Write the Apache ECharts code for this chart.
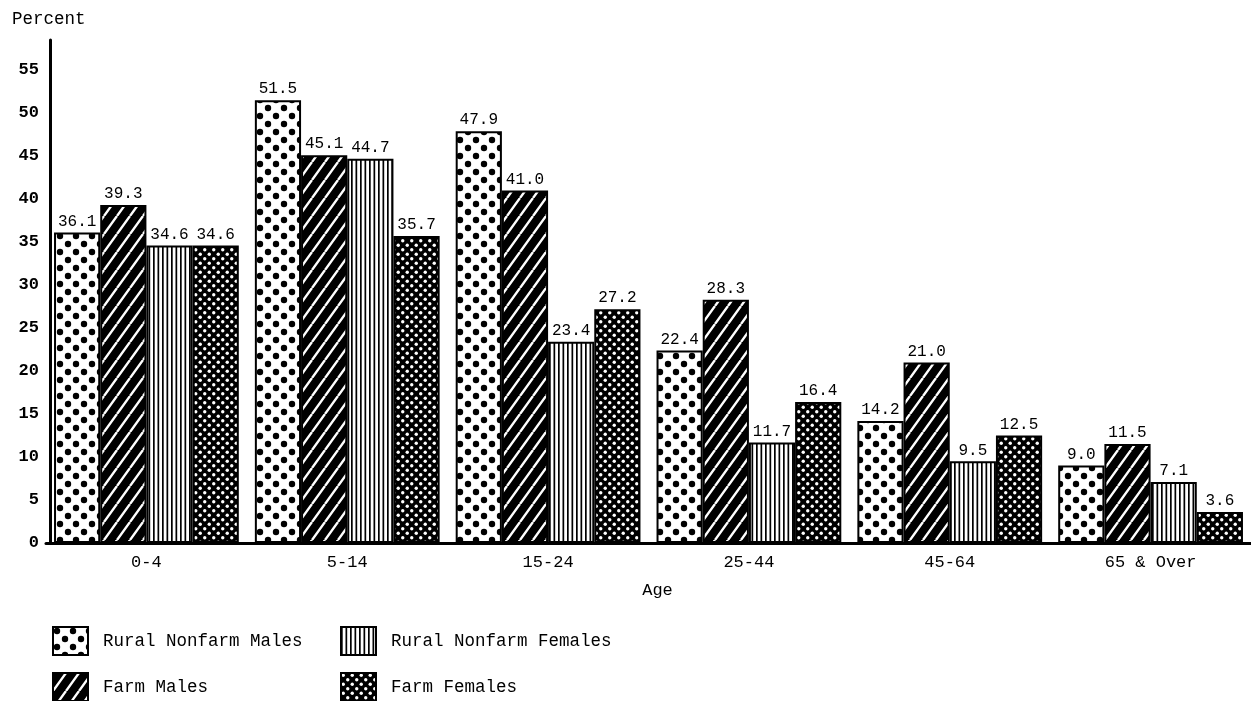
<!DOCTYPE html>
<html>
<head>
<meta charset="utf-8">
<script src="https://cdn.jsdelivr.net/npm/echarts@6/dist/echarts.min.js"></script>
<style>
html,body{margin:0;padding:0;background:#fff;}
#chart{width:1251px;height:701px;}
</style>
</head>
<body>
<div id="chart"></div>
<script>
const categories = ['0-4', '5-14', '15-24', '25-44', '45-64', '65 & Over'];
const seriesNames = ['Rural Nonfarm Males', 'Farm Males', 'Rural Nonfarm Females', 'Farm Females'];
const ruralNonfarmMales = [36.1, 51.5, 47.9, 22.4, 14.2, 9.0];
const farmMales = [39.3, 45.1, 41.0, 28.3, 21.0, 11.5];
const ruralNonfarmFemales = [34.6, 44.7, 23.4, 11.7, 9.5, 7.1];
const farmFemales = [34.6, 35.7, 27.2, 16.4, 12.5, 3.6];
const yTicks = {min: 0, max: 58.5, interval: 5};

const FONT = '"Liberation Mono", "DejaVu Sans Mono", monospace';

function makeTile(w, h, draw) {
  const c = document.createElement('canvas');
  c.width = w; c.height = h;
  const ctx = c.getContext('2d');
  draw(ctx, w, h);
  return {image: c, repeat: 'repeat'};
}
// white with black dots
const dotsPattern = makeTile(16, 16, (ctx, w, h) => {
  ctx.fillStyle = '#fff'; ctx.fillRect(0, 0, w, h);
  ctx.fillStyle = '#000';
  [[4, 4], [12, 12]].forEach(p => { ctx.beginPath(); ctx.arc(p[0], p[1], 3.2, 0, Math.PI * 2); ctx.fill(); });
});
// black with white steep diagonal lines
const hatchPattern = makeTile(13, 18, (ctx, w, h) => {
  ctx.fillStyle = '#000'; ctx.fillRect(0, 0, w, h);
  ctx.strokeStyle = '#fff'; ctx.lineWidth = 2.4;
  ctx.beginPath();
  for (let k = -1; k <= 1; k++) {
    ctx.moveTo(k * w, h); ctx.lineTo(k * w + w, 0);
  }
  ctx.stroke();
});
// white with black vertical lines
const vlinePattern = makeTile(9, 4, (ctx, w, h) => {
  ctx.fillStyle = '#fff'; ctx.fillRect(0, 0, w, h);
  ctx.fillStyle = '#000';
  ctx.fillRect(0, 0, 1.7, h);
  ctx.fillRect(4.5, 0, 1.7, h);
});
// black with small white dots
const darkDotsPattern = makeTile(9, 9, (ctx, w, h) => {
  ctx.fillStyle = '#000'; ctx.fillRect(0, 0, w, h);
  ctx.fillStyle = '#fff';
  [[2.25, 2.25], [6.75, 6.75]].forEach(p => { ctx.beginPath(); ctx.arc(p[0], p[1], 1.7, 0, Math.PI * 2); ctx.fill(); });
});

const patterns = [dotsPattern, hatchPattern, vlinePattern, darkDotsPattern];
const dataSets = [ruralNonfarmMales, farmMales, ruralNonfarmFemales, farmFemales];

// one legend per entry so they can sit in a 2x2 block
const legendSpots = [[52, 626], [52, 672], [340, 626], [340, 672]];
const legends = seriesNames.map((name, i) => ({
  data: [name],
  left: legendSpots[i][0], top: legendSpots[i][1],
  padding: 0,
  itemWidth: 35, itemHeight: 28, icon: 'rect',
  itemStyle: {borderColor: '#000', borderWidth: 2},
  textStyle: {color: '#000', fontFamily: FONT, fontSize: 17.5, padding: [2, 0, 0, 10]},
  selectedMode: false
}));

const chart = echarts.init(document.getElementById('chart'));
chart.setOption({
  animation: false,
  backgroundColor: '#fff',
  title: {
    text: 'Percent', left: 12, top: 10, padding: 0,
    textStyle: {fontFamily: FONT, fontSize: 17.5, fontWeight: 'normal', color: '#000'}
  },
  grid: {left: 46, right: 0, top: 40, bottom: 158},
  xAxis: {
    type: 'category',
    data: categories,
    axisLine: {lineStyle: {color: '#000', width: 3}},
    axisTick: {show: false},
    axisLabel: {color: '#000', fontFamily: FONT, fontSize: 17, margin: 11},
    name: 'Age', nameLocation: 'middle', nameGap: 39,
    nameTextStyle: {color: '#000', fontFamily: FONT, fontSize: 17, padding: [0, 0, 0, 18]}
  },
  yAxis: {
    type: 'value',
    min: yTicks.min, max: yTicks.max, interval: yTicks.interval,
    offset: -4,
    axisLine: {show: true, lineStyle: {color: '#000', width: 3}},
    axisTick: {show: false},
    splitLine: {show: false},
    axisLabel: {color: '#000', fontFamily: FONT, fontSize: 17, fontWeight: 'bold', margin: 11, showMaxLabel: false}
  },
  legend: legends,
  series: seriesNames.map((name, i) => ({
    name: name,
    type: 'bar',
    data: dataSets[i],
    barGap: '0%',
    barCategoryGap: '8%',
    itemStyle: {color: patterns[i], borderColor: '#000', borderWidth: 2},
    label: {
      show: true, position: 'top', distance: 3,
      color: '#000', fontFamily: FONT, fontSize: 16,
      formatter: p => p.value.toFixed(1)
    }
  }))
});
</script>
</body>
</html>
